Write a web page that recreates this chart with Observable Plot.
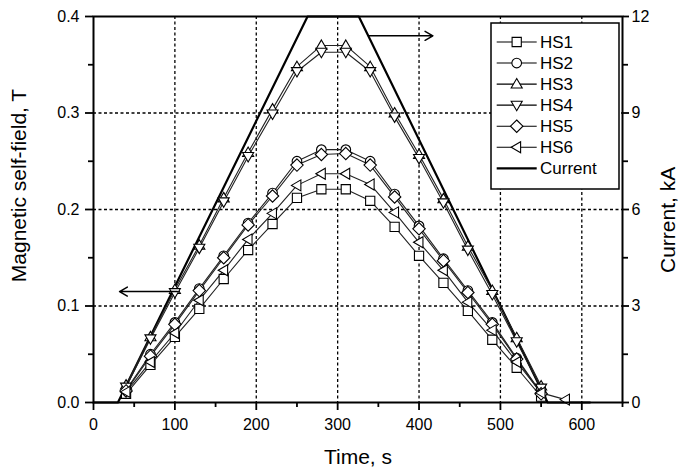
<!DOCTYPE html>
<html><head><meta charset="utf-8">
<script src="https://cdn.jsdelivr.net/npm/d3@7"></script>
<script src="https://cdn.jsdelivr.net/npm/@observablehq/plot@0.6"></script>
<style>
body{margin:0;background:#fff;}
#chart{position:relative;width:678px;height:468px;font-family:"Liberation Sans",Arial,sans-serif;}
#legend{position:absolute;left:490px;top:22px;}
</style></head><body><div id="chart"></div>
<script>
// ---- data ----
const times = [40,70,100,130,160,190,220,250,280,310,340,370,400,430,460,490,520,550,580];
const hs1 = [0.009,0.039,0.068,0.097,0.128,0.158,0.185,0.212,0.221,0.221,0.209,0.182,0.152,0.124,0.095,0.065,0.036,0.006,null];
const hs2 = [0.013,0.050,0.083,0.118,0.152,0.186,0.217,0.250,0.262,0.262,0.250,0.216,0.183,0.149,0.116,0.083,0.046,0.010,null];
const hs3 = [0.018,0.068,0.117,0.163,0.212,0.259,0.304,0.348,0.370,0.370,0.348,0.300,0.257,0.211,0.162,0.116,0.067,0.017,null];
const hs4 = [0.016,0.066,0.114,0.160,0.208,0.255,0.299,0.343,0.363,0.363,0.343,0.296,0.253,0.207,0.158,0.112,0.063,0.015,null];
const hs5 = [0.012,0.048,0.081,0.116,0.150,0.184,0.214,0.246,0.257,0.258,0.246,0.213,0.180,0.147,0.114,0.081,0.045,0.009,null];
const hs6 = [0.011,0.042,0.072,0.106,0.137,0.169,0.196,0.225,0.237,0.237,0.226,0.197,0.166,0.137,0.104,0.075,0.042,0.010,0.003];
const seriesNames = ["HS1","HS2","HS3","HS4","HS5","HS6"];
const seriesValues = [hs1,hs2,hs3,hs4,hs5,hs6];
const currentTime = [0,30,263,326,558,610];
const currentKA = [0,0,12,12,0,0];
const kAperT = 30;
const xTicks = [0,100,200,300,400,500,600];
const xMinor = [50,150,250,350,450,550,650];
const yTicks = [0,0.1,0.2,0.3,0.4];
const yMinor = [0.05,0.15,0.25,0.35];
const arrows = [{x1:103,y1:0.115,x2:32,y2:0.115},{x1:338,y1:0.380,x2:417,y2:0.380}];
const xLabel = "Time, s";
const yLabel = "Magnetic self-field, T";
const y2Label = "Current, kA";
const currentName = "Current";

// ---- symbols ----
function poly(pts){return {draw(c,size){const r=Math.sqrt(size/Math.PI);c.moveTo(pts[0][0]*r,pts[0][1]*r);for(let i=1;i<pts.length;i++)c.lineTo(pts[i][0]*r,pts[i][1]*r);c.closePath();}};}
const symSquare = poly([[-1,-1],[1,-1],[1,1],[-1,1]]);
const symCircle = {draw(c,size){const r=Math.sqrt(size/Math.PI)*1.05;c.moveTo(r,0);c.arc(0,0,r,0,2*Math.PI);}};
const symUp = poly([[0,-1.2],[1.2,0.85],[-1.2,0.85]]);
const symDown = poly([[0,1.2],[1.2,-0.85],[-1.2,-0.85]]);
const symDiamond = poly([[0,-1.35],[1.35,0],[0,1.35],[-1.35,0]]);
const symLeft = poly([[-1.2,0],[0.85,-1.2],[0.85,1.2]]);
const symbols = [symSquare,symCircle,symUp,symDown,symDiamond,symLeft];

const rows = seriesNames.map((name,i)=>times.map((t,j)=>({series:name,t,v:seriesValues[i][j]})));
const current = currentTime.map((t,i)=>({t,kA:currentKA[i]}));

const R = 4.6;
const dash = {stroke:"#000",strokeOpacity:1,strokeDasharray:"3,2.5",strokeWidth:1.3};
const marks = [
  Plot.gridX(xTicks.slice(1), dash),
  Plot.gridY(yTicks.slice(1,-1), dash),
  Plot.line(current,{x:"t",y:d=>d.kA/kAperT,stroke:"#000",strokeWidth:2.2}),
  ...rows.map(r=>Plot.line(r,{x:"t",y:"v",stroke:"#222",strokeWidth:1.1})),
  ...rows.map((r,i)=>Plot.dot(r,{x:"t",y:"v",symbol:symbols[i],r:R,fill:"white",stroke:"#000",strokeWidth:1.1})),
  Plot.arrow(arrows,{x1:"x1",y1:"y1",x2:"x2",y2:"y2",stroke:"#000",strokeWidth:1.5,headLength:9}),
  Plot.frame({stroke:"#000",strokeWidth:2}),
  Plot.axisX(xTicks,{anchor:"bottom",tickSize:8,tickPadding:8,strokeWidth:1.8,fontSize:16,label:null}),
  Plot.axisX(xMinor,{anchor:"bottom",tickSize:5,strokeWidth:1.8,tickFormat:()=>"",label:null}),
  Plot.axisY(yTicks,{anchor:"left",tickSize:8,tickPadding:6,strokeWidth:1.8,fontSize:16,tickFormat:d3.format(".1f"),label:null}),
  Plot.axisY(yMinor,{anchor:"left",tickSize:5,strokeWidth:1.8,tickFormat:()=>"",label:null}),
  Plot.axisY(yTicks,{anchor:"right",tickSize:6,tickPadding:3,strokeWidth:1.8,fontSize:16,tickFormat:d=>String(Math.round(d*kAperT)),label:null}),
  Plot.axisY(yMinor,{anchor:"right",tickSize:5,strokeWidth:1.8,tickFormat:()=>"",label:null}),
  Plot.text([xLabel],{text:d=>d,frameAnchor:"bottom",dy:54.5,fontSize:21,lineAnchor:"middle",textAnchor:"middle"}),
  Plot.text([yLabel],{text:d=>d,frameAnchor:"left",dx:-74,dy:-24,rotate:-90,fontSize:21,lineAnchor:"middle",textAnchor:"middle"}),
  Plot.text([y2Label],{text:d=>d,frameAnchor:"right",dx:45.5,dy:10.4,rotate:-90,fontSize:21,lineAnchor:"middle",textAnchor:"middle"})
];

const chart = Plot.plot({
  width:678,height:468,marginLeft:93,marginRight:56,marginTop:16,marginBottom:66,
  style:{fontFamily:"'Liberation Sans',Arial,sans-serif",fontSize:"16px",color:"#000",background:"#fff"},
  x:{domain:[0,650]},
  y:{domain:[0,0.4]},
  marks
});
const host = document.getElementById("chart");
host.appendChild(chart);

// ---- legend overlay ----
const lw=129, lh=167;
const svg = d3.select(host).append("svg").attr("id","legend").attr("width",lw+2).attr("height",lh+2);
svg.append("rect").attr("x",1).attr("y",1).attr("width",lw-1).attr("height",lh-1).attr("fill","#fff").attr("stroke","#000").attr("stroke-width",1.5);
const entries = seriesNames.map((n,i)=>({name:n,sym:symbols[i]})).concat([{name:currentName,sym:null}]);
entries.forEach((e,i)=>{
  const y = 20 + i*21.05;
  const g = svg.append("g").attr("transform",`translate(0,${y})`);
  g.append("line").attr("x1",6.7).attr("x2",46.7).attr("y1",0).attr("y2",0).attr("stroke","#000").attr("stroke-width",e.sym?1.1:2.2);
  if(e.sym){const p=d3.path();e.sym.draw(p,Math.PI*R*R);g.append("path").attr("d",p.toString()).attr("transform","translate(26.7,0)").attr("fill","#fff").attr("stroke","#000").attr("stroke-width",1.1);}
  g.append("text").attr("x",50).attr("y",0).attr("dy","0.36em").attr("font-size",17).attr("font-family","'Liberation Sans',Arial,sans-serif").text(e.name);
});
</script></body></html>
